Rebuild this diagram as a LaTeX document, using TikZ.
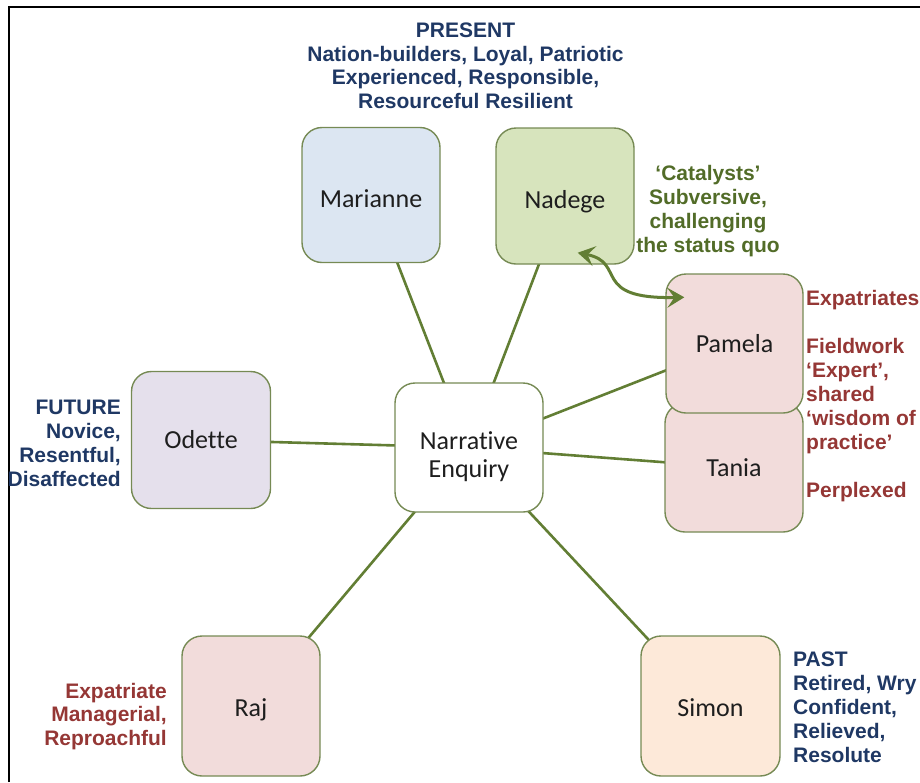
\documentclass[tikz,border=0pt]{standalone}
\usepackage{fontspec}
\setmainfont{Liberation Sans}
\newfontfamily\boxfont[Ligatures={NoCommon}]{Carlito}
\usetikzlibrary{arrows.meta}

\definecolor{boxline}{RGB}{118,138,84}
\definecolor{linkgreen}{RGB}{98,126,52}
\definecolor{boxtext}{RGB}{30,30,30}
\definecolor{fillblue}{RGB}{220,230,242}
\definecolor{fillgreen}{RGB}{215,228,189}
\definecolor{fillpink}{RGB}{242,220,219}
\definecolor{filllilac}{RGB}{229,224,236}
\definecolor{fillpeach}{RGB}{253,233,217}
\definecolor{notenavy}{RGB}{31,56,100}
\definecolor{notered}{RGB}{149,55,53}
\definecolor{noteolive}{RGB}{82,108,40}

\pgfdeclarelayer{background}
\pgfsetlayers{background,main}

\begin{document}
\begin{tikzpicture}[x=1pt,y=-1pt,
  person/.style={draw=boxline, line width=1.4pt, rounded corners=20pt,
    minimum width=138pt, minimum height=135pt, inner sep=0pt,
    font=\boxfont\fontsize{26}{28}\selectfont, text=boxtext, align=center},
  link/.style={draw=linkgreen, line width=2.6pt},
  note/.style={font=\fontsize{21}{24}\selectfont\bfseries, inner sep=0pt},
  tie/.style={draw=linkgreen, line width=3pt,
    {Stealth[length=17pt,width=20pt,inset=7pt]}-{Stealth[length=17pt,width=20pt,inset=7pt]}}
]
\useasboundingbox (0,0) rectangle (920,782);

% frame
\draw[line width=2.4pt] (9,782) -- (9,7) -- (920,7);

% participants
\node[person, fill=white, minimum width=148pt, minimum height=129pt] (nar) at (469,447.5) {};
\node[font=\boxfont\fontsize{26}{28}\selectfont, text=boxtext, align=center, inner sep=0pt, yshift=-9pt] (nartext) at (nar.center) {Narrative\\Enquiry};
\node[person, fill=fillblue, text height=25pt, text depth=0pt]  (mar) at (371,195) {Marianne};
\node[person, fill=fillgreen, minimum height=136pt, text height=24pt, text depth=0pt] (nad) at (565,196) {Nadege};
\node[person, fill=fillpink, minimum height=129pt] (tan) at (734,467.5) {Tania};
\node[person, fill=fillpink, minimum width=137pt, minimum height=139pt] (pam) at (734.5,343.5) {Pamela};
\node[person, fill=filllilac, minimum width=139pt, minimum height=137pt] (ode) at (201,440) {Odette};
\node[person, fill=fillpink, minimum height=140pt, text height=21pt, text depth=0pt] (raj) at (251,706) {Raj};
\node[person, fill=fillpeach, minimum width=139pt, minimum height=140pt, text height=21pt, text depth=0pt] (sim) at (710.5,706) {Simon};

% spokes
\begin{pgfonlayer}{background}
\draw[link] (nar.center) -- (mar.center);
\draw[link] (nar.center) -- (nad.center);
\draw[link] (nar.center) -- (pam.center);
\draw[link] (nar.center) -- (tan.center);
\draw[link] (nar.center) -- (ode.center);
\draw[link] (nar.center) -- (raj.center);
\draw[link] (nar.center) -- (sim.center);
\end{pgfonlayer}

% link between Nadege and Pamela
\coordinate (nadtip) at ([shift={(-57,-12)}]nad.south east);
\coordinate (pamtip) at ([shift={(19,24)}]pam.north west);
\draw[tie] (nadtip) .. controls +(50,10) and +(-95,2) .. (pamtip);

% descriptions
\node[note, text=notenavy, align=center, anchor=north, font=\fontsize{21}{23.5}\selectfont\bfseries] (present) at (465.5,23)
  {PRESENT\\Nation-builders, Loyal, Patriotic\\Experienced, Responsible,\\Resourceful Resilient};
\node[note, text=noteolive, align=center, anchor=north] (catal) at (708,165)
  {‘Catalysts’\\Subversive,\\challenging\\the status quo};
\node[note, text=notered, align=left, anchor=north west] (expat) at (806,290)
  {Expatriates\\[24pt]Fieldwork\\‘Expert’,\\shared\\‘wisdom of\\practice’\\[24pt]Perplexed};
\node[note, text=notenavy, align=right, anchor=north east] (future) at (121,400)
  {FUTURE\\Novice,\\Resentful,\\Disaffected};
\node[note, text=notenavy, align=left, anchor=north west] (past) at (793,652)
  {PAST\\Retired, Wry\\Confident,\\Relieved,\\Resolute};
\node[note, text=notered, align=right, anchor=north east, font=\fontsize{21}{23.5}\selectfont\bfseries] (rajnote) at (167,683)
  {Expatriate\\Managerial,\\Reproachful};
\end{tikzpicture}
\end{document}
